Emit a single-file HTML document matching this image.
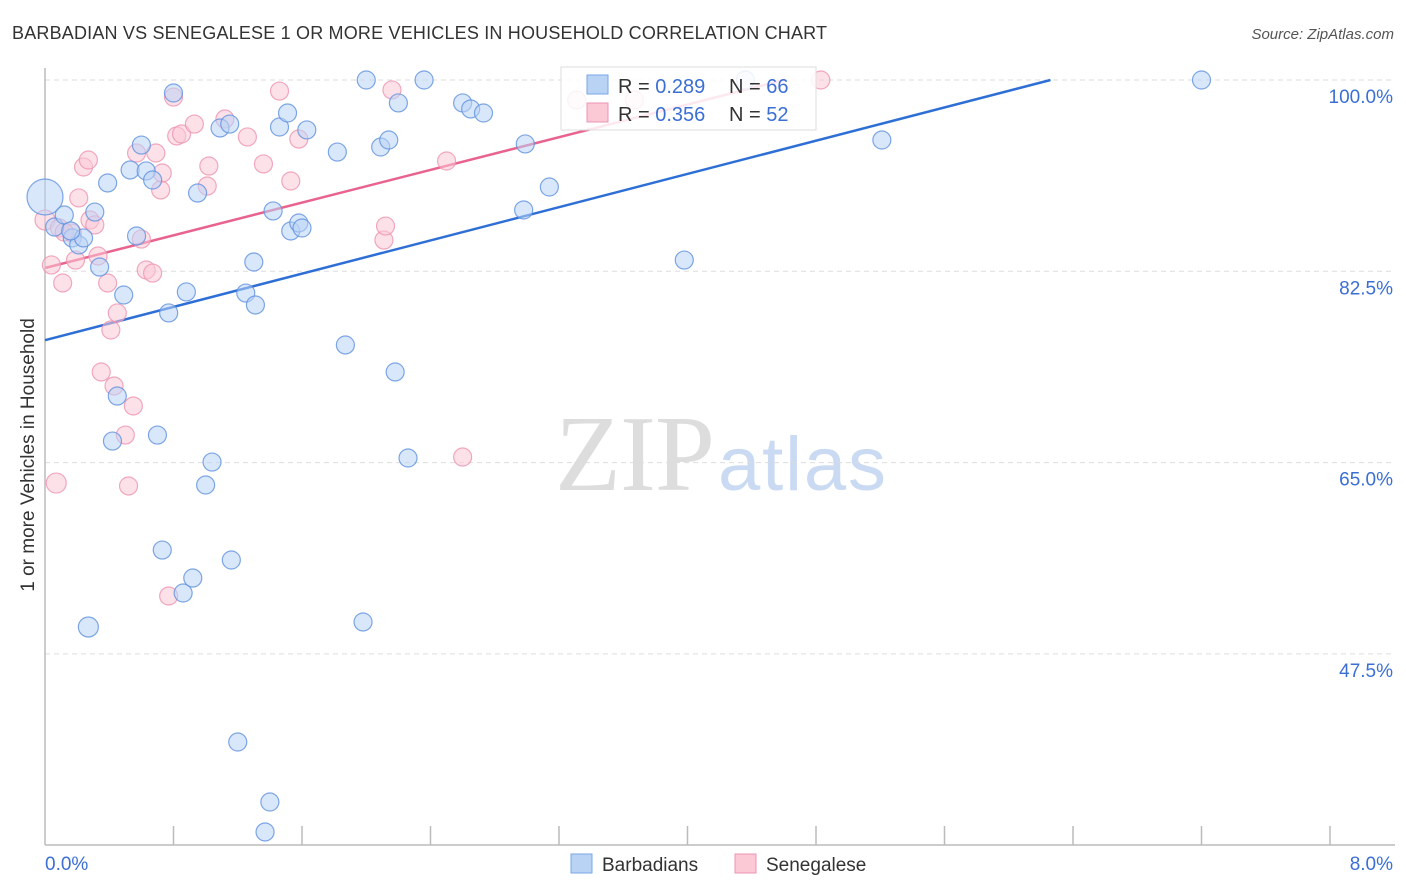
<!DOCTYPE html>
<html><head><meta charset="utf-8">
<style>
body{margin:0;background:#fff;font-family:"Liberation Sans",sans-serif;}
#wrap{position:relative;width:1406px;height:892px;overflow:hidden;}
</style></head>
<body>
<div id="wrap">
<svg id="svg" width="1406" height="892" xmlns="http://www.w3.org/2000/svg">
<text x="12" y="39" font-size="18" fill="#333" textLength="815">BARBADIAN VS SENEGALESE 1 OR MORE VEHICLES IN HOUSEHOLD CORRELATION CHART</text>
<text x="1394" y="39" font-size="15" fill="#555" font-style="italic" text-anchor="end">Source: ZipAtlas.com</text>
<text x="555" y="490" font-size="108" fill="#ddd" font-family="Liberation Serif,serif" textLength="160">ZIP</text>
<text x="718" y="490" font-size="76" fill="#c9daf2" textLength="168">atlas</text>
<text transform="translate(34,455) rotate(-90)" font-size="19" fill="#333" text-anchor="middle">1 or more Vehicles in Household</text>
<g id="grid"></g><g id="axes"></g><g id="lines"></g><g id="pts"></g>
<g>
<rect x="561" y="67" width="255" height="63" fill="#fff" fill-opacity="0.85" stroke="#ddd"/>
<rect x="587" y="75" width="21" height="19" fill="#b9d3f5" stroke="#7aa6e6"/>
<rect x="587" y="103" width="21" height="19" fill="#fbc8d6" stroke="#ee94b0"/>
<text x="618" y="93" font-size="20" fill="#333">R = <tspan fill="#3b6fd4">0.289</tspan></text>
<text x="729" y="93" font-size="20" fill="#333">N = <tspan fill="#3b6fd4">66</tspan></text>
<text x="618" y="121" font-size="20" fill="#333">R = <tspan fill="#3b6fd4">0.356</tspan></text>
<text x="729" y="121" font-size="20" fill="#333">N = <tspan fill="#3b6fd4">52</tspan></text>
</g>
<g>
<rect x="571" y="854" width="21" height="19" fill="#b9d3f5" stroke="#7aa6e6"/>
<text x="602" y="871" font-size="19" fill="#333">Barbadians</text>
<rect x="735" y="854" width="21" height="19" fill="#fbc8d6" stroke="#ee94b0"/>
<text x="766" y="871" font-size="19" fill="#333">Senegalese</text>
</g>
<text x="45" y="870" font-size="19" fill="#3b6fd4">0.0%</text>
<text x="1393" y="870" font-size="19" fill="#3b6fd4" text-anchor="end">8.0%</text>
</svg>
</div>
<script>
const yTicks=[100,82.5,65,47.5];
const yTickLabels=["100.0%","82.5%","65.0%","47.5%"];
const blueX=[0.00,0.06,0.12,0.17,0.21,0.24,0.31,0.34,0.39,0.49,0.53,0.57,0.60,0.63,0.67,0.70,0.73,0.77,0.80,0.86,0.88,0.92,0.95,1.00,1.04,1.09,1.15,1.16,1.20,1.25,1.30,1.31,1.37,1.40,1.42,1.46,1.51,1.53,1.58,1.60,1.63,1.82,1.87,1.98,2.00,2.09,2.14,2.18,2.20,2.26,2.36,2.60,2.65,2.73,2.99,2.98,3.14,3.98,4.36,5.21,7.20,0.27,0.45,0.42,0.16];
const blueY=[89.30,86.55,87.65,85.55,84.91,85.55,87.92,82.89,90.58,80.33,91.77,85.73,94.05,91.68,90.85,67.52,57.00,78.69,98.81,53.07,80.61,54.44,89.66,62.95,65.05,95.61,95.97,56.09,39.44,80.51,83.35,79.42,31.21,33.95,88.02,95.70,96.98,86.19,86.92,86.46,95.43,93.41,75.76,50.42,100,93.87,94.51,73.29,97.90,65.42,100,97.90,97.35,96.98,94.15,88.11,90.21,83.53,100,94.51,100,49.96,71.09,66.97,86.19];
const blueSize=[18,9,9,9,9,9,9,9,9,9,9,9,9,9,9,9,9,9,9,9,9,9,9,9,9,9,9,9,9,9,9,9,9,9,9,9,9,9,9,9,9,9,9,9,9,9,9,9,9,9,9,9,9,9,9,9,9,9,9,9,9,10,9,9,9];
const pinkX=[0.00,0.04,0.11,0.17,0.19,0.21,0.24,0.27,0.28,0.31,0.33,0.39,0.41,0.45,0.35,0.43,0.50,0.52,0.55,0.57,0.60,0.63,0.67,0.69,0.72,0.73,0.77,0.80,0.82,0.85,0.93,1.02,1.01,1.12,1.26,1.36,1.46,1.53,1.58,2.11,2.12,2.16,2.50,2.60,3.31,3.67,4.83,0.07,0.09,0.12];
const pinkY=[87.19,83.08,81.43,86.00,83.53,89.21,92.04,92.68,87.19,86.74,83.90,81.43,77.13,78.69,73.29,72.01,67.52,62.86,70.18,93.32,85.45,82.62,82.34,93.32,89.94,91.49,52.80,98.44,94.88,95.06,95.97,92.13,90.30,96.43,94.79,92.32,98.99,90.76,94.60,85.36,86.64,99.09,92.59,65.51,98.17,98.17,100,63.13,86.46,86.09];
const pinkSize=[10,9,9,9,9,9,9,9,9,9,9,9,9,9,9,9,9,9,9,9,9,9,9,9,9,9,9,9,9,9,9,9,9,9,9,9,9,9,9,9,9,9,9,9,9,9,9,10,9,9];
const blueTrend=[[0,76.2],[6.26,100]];
const pinkTrend=[[0,82.8],[4.6,100]];
const NS="http://www.w3.org/2000/svg";
const X=v=>45+v/8*1285;
const Y=v=>80+(100-v)/17.5*191.3;
function mk(tag,attrs,parent){const e=document.createElementNS(NS,tag);for(const k in attrs)e.setAttribute(k,attrs[k]);document.getElementById(parent).appendChild(e);return e;}
yTicks.forEach((t,i)=>{
  const l=mk('line',{x1:45,x2:1395,y1:Y(t),y2:Y(t),stroke:'#ddd','stroke-dasharray':'5,4'},'grid');
  
  
  const tx=mk('text',{x:1393,y:Y(t)+23,'font-size':19,fill:'#3b6fd4','text-anchor':'end'},'grid');
  tx.textContent=yTickLabels[i];
  
  
});
let a=mk('line',{x1:45,x2:45,y1:68,y2:845,stroke:'#bbb','stroke-width':1.5},'axes');


a=mk('line',{x1:45,x2:1395,y1:845,y2:845,stroke:'#bbb','stroke-width':1.5},'axes');


for(let i=1;i<=10;i++){
  const t=mk('line',{x1:X(i*0.8),x2:X(i*0.8),y1:826,y2:845,stroke:'#bbb','stroke-width':1.5},'axes');
  
  
}
function pts(xs,ys,ss,fill,stroke,name){
  xs.forEach((x,i)=>{
    const c=mk('circle',{cx:X(x),cy:Y(ys[i]),r:ss[i],fill:fill,'fill-opacity':0.55,stroke:stroke,'stroke-width':1.2,'stroke-opacity':0.8},'pts');
    
    
  });
}
pts(pinkX,pinkY,pinkSize,'#fbc8d6','#ee94b0','senegalese-point');
pts(blueX,blueY,blueSize,'#b9d3f5','#5f91de','barbadian-point');
let tl=mk('line',{x1:X(blueTrend[0][0]),y1:Y(blueTrend[0][1]),x2:X(blueTrend[1][0]),y2:Y(blueTrend[1][1]),stroke:'#2e6fd6','stroke-width':2.5},'lines');


tl=mk('line',{x1:X(pinkTrend[0][0]),y1:Y(pinkTrend[0][1]),x2:X(pinkTrend[1][0]),y2:Y(pinkTrend[1][1]),stroke:'#e8648f','stroke-width':2.5},'lines');


</script>
</body></html>
